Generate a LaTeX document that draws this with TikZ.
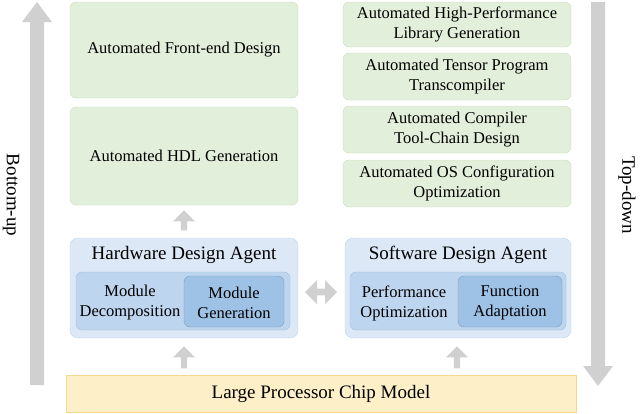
\documentclass[tikz,border=0pt]{standalone}
\usepackage{fontspec}
\setmainfont{Liberation Serif}
\usetikzlibrary{shapes.arrows}
\definecolor{gbox}{HTML}{E2EFDA}
\definecolor{gbord}{HTML}{C9DEBC}
\definecolor{bout}{HTML}{DCE8F5}
\definecolor{bin}{HTML}{BDD5EE}
\definecolor{bdark}{HTML}{9DC2E6}
\definecolor{ybox}{HTML}{FDF0C8}
\definecolor{ybord}{HTML}{F5D78E}
\definecolor{arr}{HTML}{D0D0D0}
\begin{document}
\begin{tikzpicture}[x=1pt,y=-1pt,
  gb/.style={draw=gbord,fill=gbox,rounded corners=6pt,align=center,font=\fontsize{16.5}{20}\selectfont},
  txt/.style={align=center,font=\fontsize{16.5}{20}\selectfont},
  ttl/.style={font=\fontsize{19}{21}\selectfont},
  bigarr/.style={fill=arr,draw=none}]
\useasboundingbox (0,0) rectangle (640,413);
% big arrows
\fill[arr] (30,385) -- (30,22) -- (22,22) -- (37,2) -- (52,22) -- (44,22) -- (44,385) -- cycle;
\fill[arr] (591,2) -- (591,366) -- (583,366) -- (598,386) -- (613,366) -- (605,366) -- (605,2) -- cycle;
\node[rotate=-90,ttl] (bu) at (11,195) {Bottom-up};
\node[rotate=-90,ttl] (td) at (627,195) {Top-down};
% left column
\node[gb,minimum width=228pt,minimum height=96pt] (fe) at (184,50) {Automated Front-end Design};
\node[gb,minimum width=228pt,minimum height=98pt] (hdl) at (184,156) {Automated HDL Generation};
% right column
\node[gb,minimum width=228pt,minimum height=45pt] (r1) at (457,24.5) {Automated High-Performance\\Library Generation};
\node[gb,minimum width=228pt,minimum height=47pt] (r2) at (457,76.5) {Automated Tensor Program\\Transcompiler};
\node[gb,minimum width=228pt,minimum height=47pt] (r3) at (457,129.5) {Automated Compiler\\Tool-Chain Design};
\node[gb,minimum width=228pt,minimum height=47pt] (r4) at (457,183.5) {Automated OS Configuration\\Optimization};
% agents
\node[draw=bin,fill=bout,rounded corners=8pt,minimum width=228pt,minimum height=100pt] (hw) at (184,288) {};
\node[ttl] (hwt) at (184,255) {Hardware Design Agent};
\node[draw=bdark,fill=bin,rounded corners=6pt,minimum width=214pt,minimum height=58pt] (hwi) at (183,301) {};
\node[draw=bdark!80!black,fill=bdark,rounded corners=6pt,minimum width=100pt,minimum height=51pt] (mg) at (234,301.5) {};
\node[txt] (md) at (130,303) {Module\\Decomposition};
\node[txt] (mgt) at (234,303) {Module\\Generation};
\node[draw=bin,fill=bout,rounded corners=8pt,minimum width=226pt,minimum height=100pt] (sw) at (458,288) {};
\node[ttl] (swt) at (458,255) {Software Design Agent};
\node[draw=bdark,fill=bin,rounded corners=6pt,minimum width=216pt,minimum height=58pt] (swi) at (458,301) {};
\node[draw=bdark!80!black,fill=bdark,rounded corners=6pt,minimum width=104pt,minimum height=51pt] (fa) at (510,301.5) {};
\node[txt] (po) at (404,303) {Performance\\Optimization};
\node[txt] (fat) at (510,303) {Function\\Adaptation};
% bottom
\node[draw=ybord,fill=ybox,minimum width=510pt,minimum height=37pt,ttl] (lpcm) at (321,394) {Large Processor Chip Model};
% small arrows
\node[single arrow,fill=arr,shape border rotate=90,minimum height=20pt,minimum width=22pt,single arrow head extend=3pt,inner sep=1pt] (a1) at (184,222) {};
\node[single arrow,fill=arr,shape border rotate=90,minimum height=22pt,minimum width=22pt,single arrow head extend=3pt,inner sep=1pt] (a2) at (184,359) {};
\node[single arrow,fill=arr,shape border rotate=90,minimum height=22pt,minimum width=22pt,single arrow head extend=3pt,inner sep=1pt] (a3) at (457,359) {};
\node[double arrow,fill=arr,minimum height=32pt,minimum width=24pt,double arrow head extend=3pt,inner sep=1pt] (a4) at (321,292) {};
\end{tikzpicture}
\end{document}
